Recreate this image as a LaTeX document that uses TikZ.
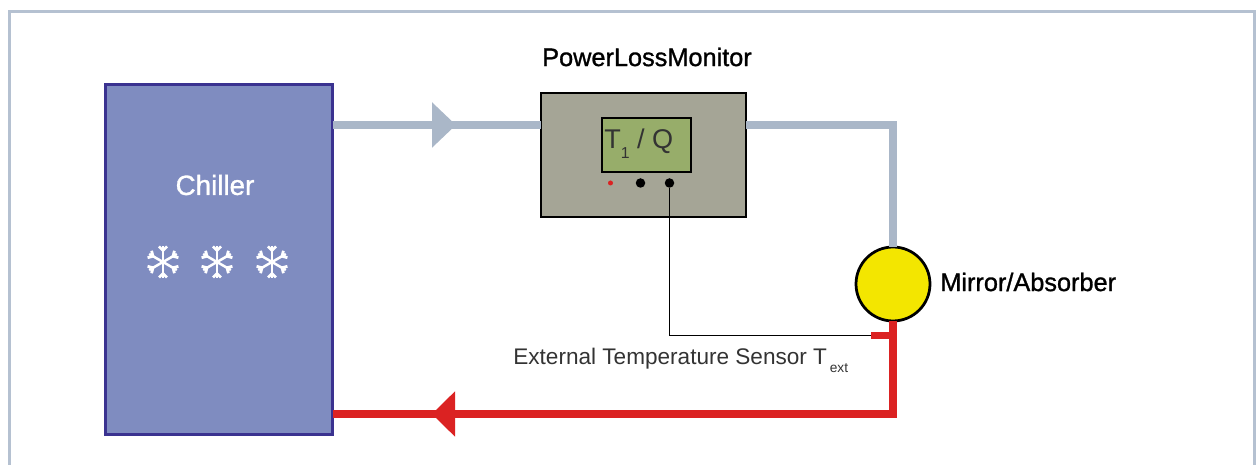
\documentclass[tikz,border=0pt]{standalone}
\usepackage{xcolor}
\usepackage{fontspec}
\usepackage{tikz}
\usetikzlibrary{arrows.meta}
\setmainfont{Liberation Sans}
\newfontfamily\medfont[FakeBold=1.1]{Liberation Sans}
\definecolor{framegrey}{HTML}{B5C1D1}
\definecolor{pipegrey}{HTML}{AAB7C8}
\definecolor{pipered}{HTML}{DB2222}
\definecolor{chillerblue}{HTML}{7F8CC0}
\definecolor{chillerline}{HTML}{3A3290}
\definecolor{boxgrey}{HTML}{A5A596}
\definecolor{screengreen}{HTML}{97AD6A}
\definecolor{mirroryellow}{HTML}{F3E600}
\definecolor{labelgrey}{HTML}{333333}

\begin{document}
\begin{tikzpicture}[x=0.02cm,y=-0.02cm,
		coldpipe/.style={draw=pipegrey,line width=0.16cm},
		hotpipe/.style={draw=pipered,line width=0.15cm},
		coldtip/.style={-{Triangle[length=0.48cm,width=0.88cm,fill=pipegrey]}},
		hottip/.style={-{Triangle[length=0.46cm,width=0.88cm,fill=pipered]}},
		wire/.style={draw=black,line width=0.03cm},
		box/.style={rectangle,draw=black,line width=0.055cm,outer sep=0pt,inner sep=0pt},
		port/.style={circle,fill=black,minimum size=0.19cm,inner sep=0pt,outer sep=0pt},
		heading/.style={font=\medfont\fontsize{14.4}{16}\selectfont,text=black},
		flake/.pic={
			\foreach \a in {90,30,-30,-90,-150,150} {
				\draw[white,line width=0.05cm,rotate=\a] (0,0) -- (16,0);
				\draw[white,line width=0.055cm,rotate=\a] (11.5,0) -- (15.5,-4);
				\draw[white,line width=0.055cm,rotate=\a] (11.5,0) -- (15.5,4);
			}
		}]
	\useasboundingbox (0,0) rectangle (1258,465);
	\draw[framegrey,line width=0.06cm] (9.5,465) -- (9.5,11.5) -- (1254.5,11.5) -- (1254.5,465);

	\node[box,draw=chillerline,line width=0.06cm,fill=chillerblue,minimum width=4.56cm,minimum height=7.02cm] (chiller) at (219,259.5) {};
	\node[box,fill=boxgrey,minimum width=4.1cm,minimum height=2.48cm] (monitor) at (643.5,155) {};
	\node[box,line width=0.05cm,fill=screengreen,minimum width=1.78cm,minimum height=1.08cm] (screen) at (646.5,145) {};
	\node[circle,fill=pipered,minimum size=0.1cm,inner sep=0pt] (led) at (610.5,183) {};
	\node[port] (portA) at (640.5,183) {};
	\node[port] (portB) at (669.5,183) {};
	\node[circle,draw=black,line width=0.055cm,fill=mirroryellow,minimum size=1.48cm,inner sep=0pt,outer sep=0pt] (mirror) at (893,284) {};

	\coordinate (tipin) at (456,125);
	\coordinate (inlet) at (541,125);
	\coordinate (outlet) at (746,125);
	\coordinate (tipout) at (432,414);
	\coordinate (return) at (333,414);
	\coordinate (sensor) at (871,335.5);

	\draw[coldpipe] (chiller.east |- inlet) -- (inlet);
	\draw[coldpipe,coldtip] (chiller.east |- inlet) -- (tipin);
	\draw[coldpipe] (outlet) -| (mirror.north);
	\draw[hotpipe] (mirror.south) |- (return);
	\draw[hotpipe,hottip] (mirror.south) |- (tipout);
	\draw[hotpipe] (sensor) -- (sensor -| mirror.south);
	\draw[wire] (portB) |- (sensor);

	\node[font=\medfont\fontsize{15.8}{18}\selectfont,text=white] (chillerlabel) at (215,185) {Chiller};
	\pic at (163,262) {flake};
	\pic at (217,262) {flake};
	\pic at (272,262) {flake};
	\node[heading] (monitorlabel) at (647,57) {PowerLossMonitor};
	\node[heading,anchor=west,inner sep=0pt] (mirrorlabel) at (940,282) {Mirror/Absorber};
	\node[anchor=west,inner sep=0pt,font=\fontsize{15.4}{18}\selectfont,text=labelgrey] (screenlabel) at (604,144) {T\raisebox{-0.7ex}{\fontsize{9}{10}\selectfont 1} / Q};
	\node[anchor=base west,inner sep=0pt,font=\fontsize{12.85}{15}\selectfont,text=labelgrey] (sensorlabel) at (513,365) {External Temperature Sensor T\hspace{1.6pt}\raisebox{-0.6ex}{\fontsize{7.8}{9}\selectfont ext}};
\end{tikzpicture}
\end{document}
